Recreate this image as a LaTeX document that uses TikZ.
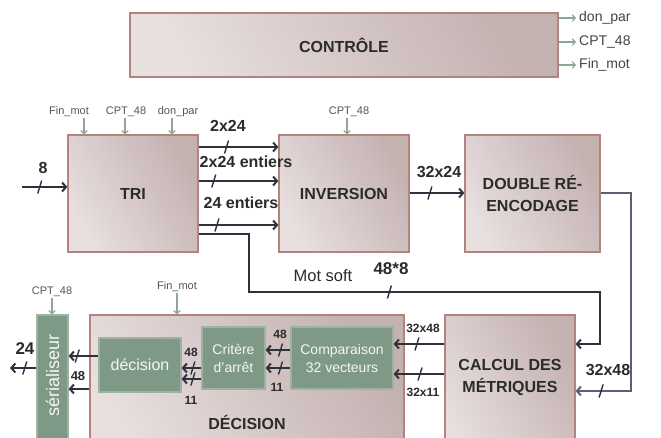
\documentclass[tikz,border=0pt]{standalone}
\usepackage{fontspec}
\setmainfont{Liberation Sans}
\usetikzlibrary{arrows.meta,calc}
\definecolor{boxlight}{HTML}{E8DFDF}
\definecolor{boxdark}{HTML}{C4B2B1}
\definecolor{boxedge}{HTML}{B5837E}
\definecolor{grn}{HTML}{7E9985}
\definecolor{grnedge}{HTML}{9DB2A2}
\definecolor{ctlc}{HTML}{8FA894}
\definecolor{linec}{HTML}{2E323C}
\definecolor{linecb}{HTML}{596072}
\definecolor{txtc}{HTML}{2B2B2B}
\definecolor{smalltxt}{HTML}{555555}
\tikzset{
  blockbox/.style={draw=boxedge, line width=1.2pt, left color=boxlight, right color=boxdark,
    shading angle=120, inner sep=0pt, align=center, text=txtc,
    font=\fontsize{16}{22}\selectfont\bfseries},
  greenbox/.style={draw=grnedge, line width=1.2pt, fill=grn, inner sep=0pt, align=center,
    text=white!92!grn, font=\fontsize{14}{18}\selectfont},
  ctl/.style={draw=ctlc, line width=1.2pt, -{Straight Barb[length=3pt,width=6.5pt]}},
  clab/.style={inner sep=1pt, text=smalltxt, font=\fontsize{11}{12}\selectfont},
  rlab/.style={inner sep=3pt, text=smalltxt!80!black, font=\fontsize{14}{16}\selectfont},
  bus/.style={draw=linec, line width=2pt, -{Straight Barb[length=4pt,width=9pt]}},
  lab/.style={inner sep=0pt, text=txtc, font=\fontsize{16}{18}\selectfont\bfseries},
  slab/.style={inner sep=0pt, text=txtc, font=\fontsize{12}{14}\selectfont\bfseries},
  busmark/.pic={\draw[-, draw=linec, line width=1.4pt] (-2,6.5) -- (2,-6.5);}
}
\begin{document}
\begin{tikzpicture}[x=1pt,y=-1pt]
\clip (0,0) rectangle (661,437);
\fill[white] (0,0) rectangle (661,437);

% CONTROLE
\node[blockbox, minimum width=428, minimum height=64] (ctrl) at (344,45) {CONTRÔLE};
\node[rlab, anchor=west] (o1) at (576,18) {don\_par};
\node[rlab, anchor=west] (o2) at (576,42) {CPT\_48};
\node[rlab, anchor=west] (o3) at (576,65) {Fin\_mot};
\draw[ctl] (ctrl.east |- o1) -- (o1.west);
\draw[ctl] (ctrl.east |- o2) -- (o2.west);
\draw[ctl] (ctrl.east |- o3) -- (o3.west);

% top row blocks
\node[blockbox, minimum width=130, minimum height=117] (tri) at (133,193.5) {TRI};
\node[blockbox, minimum width=130, minimum height=117] (inv) at (344,193.5) {INVERSION};
\node[blockbox, minimum width=135, minimum height=117] (dbl) at (532.5,193.5) {DOUBLE RÉ-\\ENCODAGE};

% control inputs top
\node[clab] (t1) at (69,112) {Fin\_mot};
\node[clab] (t2) at (126,112) {CPT\_48};
\node[clab] (t3) at (178,112) {don\_par};
\node[clab] (t4) at (349,112) {CPT\_48};
\coordinate (c1) at (84,118);
\coordinate (c2) at (125,118);
\coordinate (c3) at (172,118);
\coordinate (c4) at (347,118);
\draw[ctl] (c1) -- (c1 |- tri.north);
\draw[ctl] (c2) -- (c2 |- tri.north);
\draw[ctl] (c3) -- (c3 |- tri.north);
\draw[ctl] (c4) -- (c4 |- inv.north);

% bottom blocks
\node[blockbox, minimum width=314, minimum height=155] (decbox) at (247,392.5) {};
\node[lab] (declab) at (247,422) {DÉCISION};
\node[blockbox, minimum width=130, minimum height=155] (calc) at (510,392.5) {};
\node[lab, align=center, font=\fontsize{16}{22}\selectfont\bfseries] (calclab) at (510,377) {CALCUL DES\\MÉTRIQUES};
\node[greenbox, minimum width=31, minimum height=155] (ser) at (52.5,392.5) {};
\node[rotate=90, inner sep=0pt, text=white!92!grn, font=\fontsize{18}{20}\selectfont] (serlab) at (52.5,375) {sérialiseur};
\node[greenbox, minimum width=102, minimum height=62] (comp) at (342,358) {Comparaison\\32 vecteurs};
\node[greenbox, minimum width=63, minimum height=62] (crit) at (233.5,358) {Critère\\d'arrêt};
\node[greenbox, minimum width=82, minimum height=54, font=\fontsize{16}{18}\selectfont] (decis) at (140,365) {décision};

% control inputs bottom
\node[clab] (b1) at (177,287) {Fin\_mot};
\node[clab] (b2) at (52,292) {CPT\_48};
\draw[ctl] (b1.south) -- (b1.south |- decbox.north);
\draw[ctl] (b2.south) -- (b2.south |- ser.north);

% input 8
\coordinate (in8) at (22,187);
\draw[bus] (in8) -- pic[pos=.39]{busmark} (tri.west |- in8);
\node[lab] (l8) at (43,168) {8};

% TRI -> INVERSION
\draw[bus] (tri.east |- 0,147) -- pic[pos=.35]{busmark} (inv.west |- 0,147);
\draw[bus] (tri.east |- 0,181) -- pic[pos=.19]{busmark} (inv.west |- 0,181);
\draw[bus] (tri.east |- 0,225) -- pic[pos=.23]{busmark} (inv.west |- 0,225);
\node[lab] (l1) at (228,126) {2x24};
\node[lab] (l2) at (246,162) {2x24 entiers};
\node[lab] (l3) at (241,203) {24 entiers};

% Mot soft
\draw[bus] (tri.east |- 0,234) -- (249,234) -- (249,292) -- pic[pos=.40]{busmark} (600,292) -- (600,344) -- (calc.east |- 0,344);
\node[inner sep=0pt, text=txtc, font=\fontsize{16.5}{18}\selectfont] (lms) at (323,276) {Mot soft};
\node[lab, font=\fontsize{17}{18}\selectfont\bfseries] (l48) at (391,269) {48*8};

% INVERSION -> DOUBLE
\draw[bus] (inv.east |- 0,193) -- pic[pos=.37]{busmark} (dbl.west |- 0,193);
\node[lab] (l4) at (439,172) {32x24};

% DOUBLE -> CALCUL
\draw[bus, draw=linecb] (dbl.east |- 0,193) -- (631,193) -- (631,391) -- pic[pos=.54]{busmark} (calc.east |- 0,391);
\node[lab] (l5) at (608,370) {32x48};

% CALCUL -> Comparaison
\draw[bus] (calc.west |- 0,344) -- pic[pos=.54]{busmark} (comp.east |- 0,344);
\draw[bus] (calc.west |- 0,374) -- pic[pos=.48]{busmark} (comp.east |- 0,374);
\node[slab] (l6) at (423,328) {32x48};
\node[slab] (l7) at (423,392) {32x11};

% Comparaison -> Critere
\draw[bus] (comp.west |- 0,350) -- pic[pos=.4]{busmark} (crit.east |- 0,350);
\draw[bus] (comp.west |- 0,368) -- pic[pos=.4]{busmark} (crit.east |- 0,368);
\node[slab] (l9) at (280,334) {48};
\node[slab] (l10) at (277,387) {11};

% Critere -> decision
\draw[bus] (crit.west |- 0,368) -- pic[pos=.43]{busmark} (decis.east |- 0,368);
\draw[bus] (crit.west |- 0,379) -- pic[pos=.43]{busmark} (decis.east |- 0,379);
\node[slab] (l11) at (191,352) {48};
\node[slab] (l12) at (191,400) {11};

% decision -> serialiseur
\draw[bus] (decis.west |- 0,356) -- pic[pos=.71]{busmark} (ser.east |- 0,356);
\draw[bus] (decbox.west |- 0,389) -- (ser.east |- 0,389);
\node[slab, font=\fontsize{13}{14}\selectfont\bfseries] (l13) at (78,376) {48};

% output 24
\coordinate (out24) at (10,368);
\draw[bus] (ser.west |- out24) -- pic[pos=.44]{busmark} (out24);
\node[lab, font=\fontsize{17}{18}\selectfont\bfseries] (l24) at (25,349) {24};
\end{tikzpicture}
\end{document}
